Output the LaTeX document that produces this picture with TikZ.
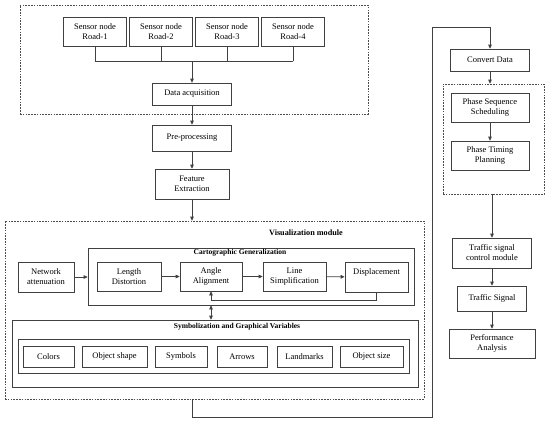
\documentclass[tikz,border=0pt]{standalone}
\usepackage{fontspec}
\setmainfont{Liberation Serif}
\usepackage{tikz}
\usetikzlibrary{arrows.meta,calc,positioning}

\begin{document}
\begin{tikzpicture}[x=1pt,y=-1pt,line width=0.7pt,
  font=\fontsize{8.5}{10}\selectfont,
  blk/.style={draw=black!75,align=center,inner sep=1pt},
  dbox/.style={draw=black!70,dash pattern=on 1.6pt off 1.2pt,inner sep=0pt},
  frm/.style={draw=black!75,inner sep=0pt},
  wire/.style={draw=black!75},
  arr/.style={draw=black!75,-{Triangle[length=4pt,width=3.6pt]}},
  darr/.style={draw=black!75,{Triangle[length=4pt,width=3.6pt]}-{Triangle[length=4pt,width=3.6pt]}},
  hd/.style={font=\fontsize{7.5}{8.5}\selectfont\bfseries}]
  \useasboundingbox (0,0) rectangle (550,421);

  % data acquisition part
  \node[dbox,minimum width=348,minimum height=109] (acq) at (194,59.5) {};
  \foreach \i in {1,...,4}
    \node[blk,minimum width=63,minimum height=29] (s\i) at ({95+66*(\i-1)},31.5) {Sensor node\\Road-\i};
  \coordinate (bus) at (192,61);
  \foreach \i in {1,...,4} \draw[wire] (s\i.south) -- (s\i.south |- bus);
  \draw[wire] (s1.south |- bus) -- (s4.south |- bus);
  \node[blk,minimum width=79,minimum height=22] (dacq) at (192,94) {Data acquisition};
  \node[blk,minimum width=79,minimum height=26] (pre) at (192,138) {Pre-processing};
  \node[blk,minimum width=74,minimum height=30] (feat) at (192,184) {Feature\\Extraction};
  \draw[arr] (bus) -- (bus |- dacq.north);
  \draw[arr] (dacq) -- (pre);
  \draw[arr] (pre) -- (feat);

  % visualization module
  \node[dbox,minimum width=419,minimum height=178] (vis) at (214.5,310) {};
  \node[font=\fontsize{8.2}{9}\selectfont\bfseries] (vislbl) at (306,233) {Visualization module};
  \draw[arr] (feat.south) -- (feat.south |- vis.north);
  \node[frm,minimum width=326,minimum height=57] (carto) at (251,276.5) {};
  \node[hd] (cglbl) at (240,253) {Cartographic Generalization};
  \node[blk,minimum width=56,minimum height=30] (net) at (46,277) {Network\\attenuation};
  \node[blk,minimum width=64,minimum height=29] (len) at (129,276.5) {Length\\Distortion};
  \node[blk,minimum width=62,minimum height=29] (ang) at (211,276.5) {Angle\\Alignment};
  \node[blk,minimum width=63,minimum height=29] (line) at (294.5,276.5) {Line\\Simplification};
  \node[blk,minimum width=63,minimum height=30] (disp) at (376.5,277) {Displacement\\\mbox{}};
  \draw[arr] (net) -- (net -| carto.west);
  \draw[arr] (len) -- (ang);
  \draw[arr] (ang) -- (line);
  \draw[arr] (line) -- (disp);
  \draw[arr] (disp.south) -- ++(0,8) -| (ang.south);

  \node[frm,minimum width=406,minimum height=67] (sym) at (215,353.5) {};
  \node[hd] (svlbl) at (237,327) {Symbolization and Graphical Variables};
  \node[frm,minimum width=391,minimum height=34] (vars) at (213.5,356) {};
  \draw[darr] (ang.south |- carto.south) -- (ang.south |- sym.north);
  \foreach \x/\w/\t [count=\k] in {48.5/51/Colors,114.5/65/Object shape,181/52/Symbols,
      242/50/Arrows,304.5/55/Landmarks,371.5/63/Object size}
    \node[blk,minimum width=\w,minimum height=21] (v\k) at (\x,356.5) {\t};

  % control part
  \node[blk,minimum width=79,minimum height=22] (conv) at (490,60) {Convert Data};
  \coordinate (lo) at (432,417);
  \coordinate (hi) at (432,27);
  \draw[arr] (feat.south |- vis.south) |- (lo) -- (hi) -| (conv.north);
  \node[dbox,minimum width=101,minimum height=110] (ctrl) at (493.5,139) {};
  \node[blk,minimum width=78,minimum height=29] (pss) at (490,107.5) {Phase Sequence\\Scheduling};
  \node[blk,minimum width=78,minimum height=29] (ptp) at (490,155.5) {Phase Timing\\Planning};
  \draw[arr] (conv) -- (conv |- ctrl.north);
  \draw[arr] (pss) -- (ptp);
  \node[blk,minimum width=79,minimum height=30] (tscm) at (492,253) {Traffic signal\\control module};
  \node[blk,minimum width=69,minimum height=25] (ts) at (492,298.5) {Traffic Signal};
  \node[blk,minimum width=86,minimum height=29] (pa) at (492,343.5) {Performance\\Analysis};
  \draw[arr] (tscm |- ctrl.south) -- (tscm);
  \draw[arr] (tscm) -- (ts);
  \draw[arr] (ts) -- (pa);
\end{tikzpicture}
\end{document}
